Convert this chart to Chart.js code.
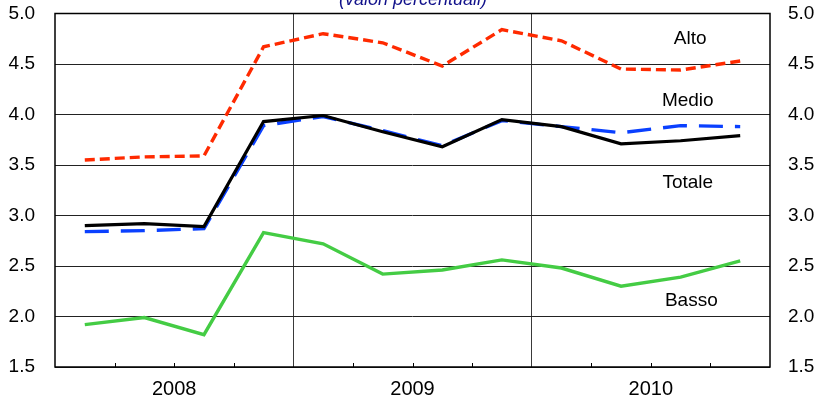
<!DOCTYPE html>
<html>
<head>
<meta charset="utf-8">
<script src="https://cdn.jsdelivr.net/npm/chart.js@4/dist/chart.umd.min.js"></script>
<style>
  html, body { margin: 0; padding: 0; background: #fff; }
  canvas { display: block; }
</style>
</head>
<body>
<canvas id="grafico" width="819" height="397"></canvas>
<script>
// trimestri 2008-2010, valori percentuali
var anni = ["2008", "2009", "2010"];
var yTicks = [1.5, 2.0, 2.5, 3.0, 3.5, 4.0, 4.5, 5.0];

var alto   = [3.55, 3.58, 3.59, 4.67, 4.80, 4.71, 4.48, 4.84, 4.73, 4.45, 4.44, 4.53];
var medio  = [2.84, 2.85, 2.87, 3.89, 3.98, 3.84, 3.69, 3.94, 3.88, 3.82, 3.89, 3.88];
var totale = [2.90, 2.92, 2.89, 3.93, 3.99, 3.83, 3.68, 3.95, 3.88, 3.71, 3.74, 3.79];
var basso  = [1.92, 1.99, 1.82, 2.83, 2.72, 2.42, 2.46, 2.56, 2.48, 2.30, 2.39, 2.55];

var nomi = ["Alto", "Medio", "Totale", "Basso"];

function punti(arr) {
  return arr.map(function (v, i) { return { x: i + 0.5, y: v }; });
}

var FONT = "'Liberation Sans', Arial, sans-serif";

// etichette delle serie, in coordinate dei dati
var etichette = [
  { testo: nomi[0], x: 10.66, y: 4.75 },
  { testo: nomi[1], x: 10.62, y: 4.14 },
  { testo: nomi[2], x: 10.62, y: 3.32 },
  { testo: nomi[3], x: 10.68, y: 2.16 }
];

var cornice = {
  id: "cornice",
  beforeDatasetsDraw: function (chart) {
    var ctx = chart.ctx, a = chart.chartArea, sx = chart.scales.x;
    ctx.save();
    ctx.strokeStyle = "#000";
    ctx.lineWidth = 1;
    for (var q = 1; q < anni.length * 4; q++) {
      if (q % 4 === 0) continue;
      var px = Math.round(sx.getPixelForValue(q)) + 0.5;
      ctx.beginPath();
      ctx.moveTo(px, a.bottom);
      ctx.lineTo(px, a.bottom - 4);
      ctx.stroke();
    }
    ctx.lineWidth = 1.5;
    ctx.strokeRect(a.left, a.top, a.right - a.left, a.bottom - a.top);
    ctx.restore();
  },
  afterDatasetsDraw: function (chart) {
    var ctx = chart.ctx, sx = chart.scales.x, sy = chart.scales.y;
    ctx.save();
    ctx.fillStyle = "#000";
    ctx.font = "19px " + FONT;
    ctx.textAlign = "center";
    ctx.textBaseline = "middle";
    etichette.forEach(function (e) {
      ctx.fillText(e.testo, sx.getPixelForValue(e.x), sy.getPixelForValue(e.y));
    });
    ctx.fillStyle = "#10108a";
    ctx.font = "italic 18px " + FONT;
    ctx.textBaseline = "alphabetic";
    ctx.fillText("(valori percentuali)", 413, 5);
    ctx.restore();
  }
};

function asseY(lato, larghezza, pad) {
  return {
    position: lato,
    min: 1.5,
    max: 5.0,
    afterBuildTicks: function (scale) {
      scale.ticks = yTicks.map(function (v) { return { value: v }; });
    },
    afterFit: function (scale) {
      scale.width = larghezza;
      scale.paddingTop = 0;
      scale.paddingBottom = 0;
    },
    ticks: {
      padding: pad,
      color: "#000",
      font: { family: FONT, size: 19 },
      callback: function (v) { return v.toFixed(1); }
    },
    grid: lato === "left"
      ? { drawTicks: false, color: "#222", lineWidth: 1 }
      : { drawOnChartArea: false, drawTicks: false },
    border: { display: false }
  };
}

var ctx = document.getElementById("grafico").getContext("2d");
var chart = new Chart(ctx, {
  type: "line",
  data: {
    datasets: [
      { label: nomi[2], data: punti(totale), borderColor: "#000000", borderWidth: 3.2, order: 0 },
      { label: nomi[1], data: punti(medio), borderColor: "#0a40ff", borderWidth: 3.4, borderDash: [24, 12], order: 1 },
      { label: nomi[0], data: punti(alto), borderColor: "#ff2a00", borderWidth: 3.4, borderDash: [10, 5], order: 2 },
      { label: nomi[3], data: punti(basso), borderColor: "#44cc44", borderWidth: 3.4, order: 3 }
    ]
  },
  options: {
    responsive: false,
    animation: false,
    layout: { padding: { top: 13.5, left: 0, right: 0, bottom: 0 } },
    elements: { point: { radius: 0 }, line: { tension: 0, fill: false } },
    plugins: { legend: { display: false }, tooltip: { enabled: false } },
    scales: {
      x: {
        type: "linear",
        min: 0,
        max: anni.length * 4,
        afterBuildTicks: function (scale) {
          var t = [];
          for (var i = 0; i <= anni.length * 4; i++) t.push({ value: i });
          scale.ticks = t;
        },
        afterFit: function (scale) {
          scale.height = 30;
          scale.paddingLeft = 0;
          scale.paddingRight = 0;
        },
        ticks: {
          autoSkip: false,
          maxRotation: 0,
          padding: 10,
          color: "#000",
          font: { family: FONT, size: 20 },
          callback: function (v) {
            return (v % 4 === 2) ? anni[(v - 2) / 4] : "";
          }
        },
        grid: {
          drawTicks: false,
          lineWidth: 1,
          color: function (c) {
            var v = c.tick ? c.tick.value : null;
            return (v === 4 || v === 8) ? "#3a3a3a" : "rgba(0,0,0,0)";
          }
        },
        border: { display: false }
      },
      y: asseY("left", 55, 20),
      y2: asseY("right", 49, 18)
    }
  },
  plugins: [cornice]
});
</script>
</body>
</html>
